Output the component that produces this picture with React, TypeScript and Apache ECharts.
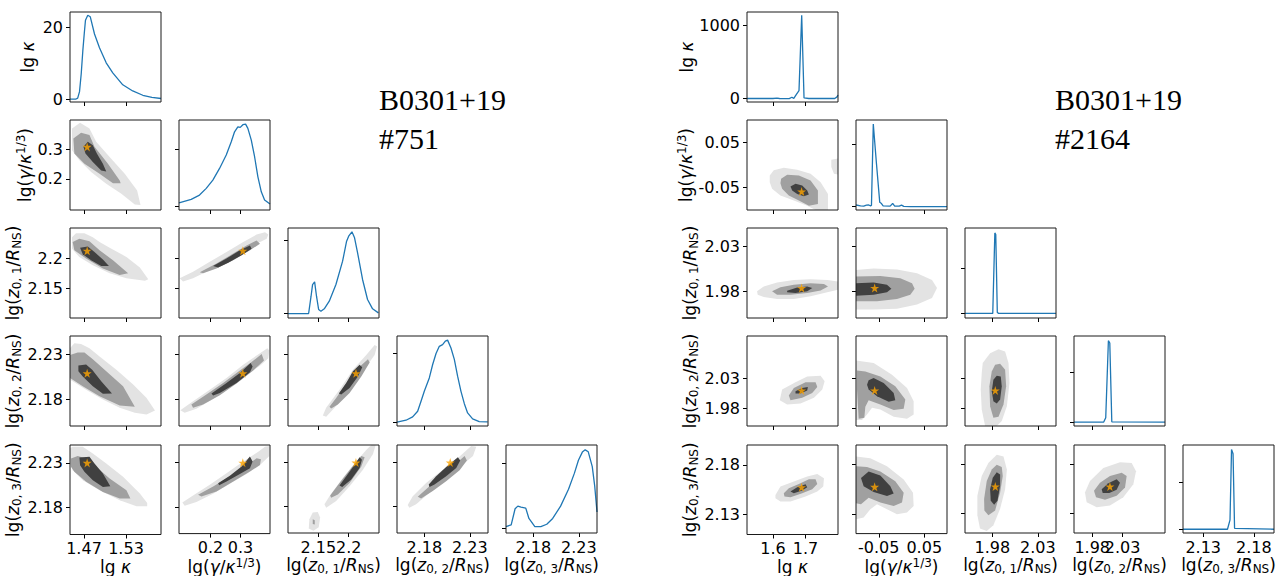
import React, { useEffect, useRef } from "react";
import * as echarts from "echarts";

// ---------- data ----------
const PARAM_NAMES = [
  "{n|lg }{i|κ}",
  "{n|lg(}{i|γ}{n|/}{i|κ}{sp|1/3}{n|)}",
  "{n|lg(}{i|z}{sb|0, 1}{n|/}{i|R}{sb|NS}{n|)}",
  "{n|lg(}{i|z}{sb|0, 2}{n|/}{i|R}{sb|NS}{n|)}",
  "{n|lg(}{i|z}{sb|0, 3}{n|/}{i|R}{sb|NS}{n|)}",
];

const L_RANGE = [[1.45, 1.58], [0.095, 0.398], [2.1, 2.25], [2.15, 2.25], [2.15, 2.25]];
const L_TICKS = [[1.47, 1.53], [0.2, 0.3], [2.15, 2.2], [2.18, 2.23], [2.18, 2.23]];
const L_BEST = [1.4745, 0.3075, 2.212, 2.2085, 2.23];
const L_DIAG_RANGE = [[-0.77, 24.2], [-0.28, 6.04], [-0.61, 11.66], [-1.1, 25.1], [-1.5, 25.7]];
const L_DIAG_TICKS = [[0, 20], [0, 4], [0, 10], [0, 20], [0, 20]];

const R_RANGE = [[1.52, 1.8], [-0.1, 0.1], [1.95, 2.05], [1.95, 2.1], [2.11, 2.2]];
const R_TICKS = [[1.6, 1.7], [-0.05, 0.05], [1.98, 2.03], [1.98, 2.03], [2.13, 2.18]];
const R_BEST = [1.688, -0.059, 1.9833, 2.0092, 2.1575];
const R_DIAG_RANGE = [[-45, 1183], [-2.1, 55.5], [-10.3, 189.7], [-7.9, 172], [-7.9, 178.5]];
const R_DIAG_TICKS = [[0, 1000], [0, 40], [0, 100], [0, 100], [0, 100]];

// marginal densities (x, density)
const L_KDE0 = [[1.45, 0], [1.458, 0], [1.461, 0.3], [1.4636, 2.1], [1.466, 7], [1.4683, 13.4], [1.4705, 18.5], [1.4721, 21.9], [1.4754, 23.3], [1.4789, 22.9], [1.485, 18.1], [1.4921, 14.3], [1.5017, 10.1], [1.5111, 7.3], [1.5254, 4.0], [1.5396, 2.3], [1.554, 1.1], [1.567, 0.5], [1.58, 0.2]];
const L_KDE1 = [[0.095, 0.22], [0.1357, 0.47], [0.1633, 0.77], [0.1857, 1.24], [0.2077, 1.82], [0.23, 2.64], [0.2523, 3.58], [0.269, 4.51], [0.28, 5.21], [0.291, 5.56], [0.299, 5.52], [0.3077, 5.71], [0.3167, 5.75], [0.3243, 5.45], [0.3357, 4.63], [0.3467, 3.46], [0.3577, 2.05], [0.369, 1.0], [0.38, 0.42], [0.398, 0.14]];
const L_KDE2 = [[2.1, 0], [2.134, 0], [2.138, 2.36], [2.1405, 3.95], [2.1439, 4.32], [2.147, 2.36], [2.1505, 0.55], [2.1543, 0.32], [2.1598, 0.64], [2.168, 1.68], [2.179, 3.95], [2.19, 7.14], [2.1966, 9.86], [2.2, 10.55], [2.2054, 11.14], [2.2097, 10.32], [2.2147, 8.27], [2.2229, 4.64], [2.2311, 1.91], [2.2394, 0.64], [2.249, 0.09]];
const L_KDE3 = [[2.15, 0], [2.1599, 0.58], [2.1672, 1.55], [2.1727, 3.2], [2.1764, 6.1], [2.18, 9.0], [2.1855, 12.9], [2.1892, 16.8], [2.1929, 20.0], [2.1965, 22.1], [2.2001, 22.6], [2.2031, 23.6], [2.2056, 23.9], [2.2093, 21.6], [2.213, 18.3], [2.2166, 13.4], [2.2203, 9.0], [2.224, 5.4], [2.2276, 2.7], [2.2331, 0.97], [2.2404, 0.19], [2.2496, 0.1]];
const L_KDE4 = [[2.15, 0.5], [2.1557, 1.0], [2.16, 6.0], [2.163, 6.8], [2.1665, 6.5], [2.1717, 6.2], [2.1752, 3.0], [2.1817, 0.5], [2.1883, 0.5], [2.1948, 1.2], [2.2013, 3.0], [2.21, 6.8], [2.2187, 12], [2.2252, 17], [2.2296, 21], [2.2339, 23.5], [2.237, 24.2], [2.2404, 23.6], [2.2448, 19], [2.2475, 13], [2.25, 5]];

const R_KDE0 = [[1.52, 3], [1.57, 3], [1.6, 3], [1.612, 8], [1.62, 3], [1.65, 2], [1.658, 20], [1.664, 5], [1.672, 60], [1.68, 110], [1.6883, 1137], [1.6955, 10], [1.71, 3], [1.79, 3], [1.797, 25], [1.8, 50]];
const R_KDE1 = [[-0.1, 1.1], [-0.09, 0.5], [-0.083, 0.4], [-0.077, 1.0], [-0.072, 1.1], [-0.068, 0.6], [-0.066, 0.8], [-0.062, 52.9], [-0.055, 27.5], [-0.0478, 2.8], [-0.044, 2.0], [-0.0404, 0.5], [-0.025, 0.4], [-0.0194, 2.1], [-0.015, 0.4], [-0.005, 0.4], [0.0, 1.0], [0.005, 0.2], [0.02, 0], [0.1, 0]];
const R_KDE2 = [[1.95, 0], [1.9805, 0], [1.9828, 178.8], [1.9838, 175], [1.9855, 2], [1.987, 0], [2.05, 0]];
const R_KDE3 = [[1.95, 0], [1.999, 0], [2.0023, 8.7], [2.0067, 162.7], [2.009, 158], [2.0123, 0.5], [2.1, 0]];
const R_KDE4 = [[2.11, 0], [2.154, 0], [2.1565, 20], [2.158, 169], [2.1595, 160], [2.161, 2], [2.2, 0]];

// 2-D credible regions (x, y) per panel: light / mid / dark polygons
const L10 = {
  light: [[[1.4529, 0.3697], [1.4644, 0.389], [1.4778, 0.3697], [1.4874, 0.3245], [1.5066, 0.2736], [1.5282, 0.2171], [1.5459, 0.1606], [1.5507, 0.112], [1.5426, 0.1131], [1.5234, 0.1493], [1.5018, 0.1832], [1.4802, 0.2228], [1.4634, 0.2623], [1.4529, 0.2962]]],
  mid: [[[1.4548, 0.3358], [1.4658, 0.355], [1.4778, 0.3471], [1.485, 0.3076], [1.5042, 0.251], [1.521, 0.1945], [1.5224, 0.1854], [1.5114, 0.1854], [1.4922, 0.2171], [1.4706, 0.251], [1.4562, 0.2849]]],
  dark: [[[1.4692, 0.3076], [1.4754, 0.3245], [1.4826, 0.3132], [1.4884, 0.2849], [1.497, 0.251], [1.5018, 0.225], [1.4946, 0.2283], [1.4826, 0.2567], [1.4721, 0.2849]]],
};
const L20 = {
  light: [[[1.4529, 2.2347], [1.4586, 2.2412], [1.4706, 2.2412], [1.4826, 2.2347], [1.4922, 2.2265], [1.5066, 2.2172], [1.5306, 2.2018], [1.5498, 2.1843], [1.5618, 2.1646], [1.557, 2.1619], [1.5306, 2.1662], [1.5066, 2.1745], [1.4826, 2.1881], [1.4634, 2.2018], [1.4529, 2.2155]]],
  mid: [[[1.4538, 2.2265], [1.4634, 2.2319], [1.4778, 2.2281], [1.4922, 2.2128], [1.5114, 2.1964], [1.533, 2.1745], [1.521, 2.1717], [1.497, 2.1827], [1.473, 2.1991], [1.4562, 2.2128]]],
  dark: [[[1.4644, 2.2172], [1.4754, 2.2193], [1.485, 2.21], [1.497, 2.1974], [1.5056, 2.1865], [1.4946, 2.1865], [1.4802, 2.1964], [1.4682, 2.2062]]],
};
const L21 = {
  light: [[[0.0972, 2.1662], [0.1418, 2.1772], [0.1975, 2.1936], [0.2532, 2.21], [0.3089, 2.2265], [0.3534, 2.2391], [0.3813, 2.2429], [0.3924, 2.2391], [0.3869, 2.2319], [0.3534, 2.2237], [0.2977, 2.2073], [0.242, 2.1909], [0.1863, 2.1772], [0.1418, 2.1662], [0.1084, 2.1608]]],
  mid: [[[0.1641, 2.1761], [0.2198, 2.1909], [0.2755, 2.2073], [0.32, 2.221], [0.3534, 2.2292], [0.3646, 2.2237], [0.3312, 2.2128], [0.2755, 2.1964], [0.2198, 2.1827], [0.1752, 2.1745]]],
  dark: [[[0.2086, 2.1865], [0.2532, 2.1991], [0.2977, 2.2128], [0.3312, 2.221], [0.3367, 2.2155], [0.3033, 2.2046], [0.2588, 2.192], [0.2253, 2.1843]]],
};
const L30 = {
  light: [[[1.45, 2.2015], [1.45, 2.2364], [1.4562, 2.2419], [1.4658, 2.2412], [1.4778, 2.2364], [1.4922, 2.2272], [1.5162, 2.2125], [1.5402, 2.196], [1.5594, 2.1812], [1.5714, 2.1673], [1.5594, 2.1629], [1.5426, 2.1647], [1.521, 2.1702], [1.497, 2.1794], [1.473, 2.1904], [1.4538, 2.1996]]],
  mid: [[[1.45, 2.229], [1.461, 2.2316], [1.4706, 2.2316], [1.4826, 2.2243], [1.5018, 2.2107], [1.5258, 2.1941], [1.5426, 2.1713], [1.521, 2.1728], [1.4922, 2.1831], [1.4682, 2.1941], [1.45, 2.2033]]],
  dark: [[[1.462, 2.2173], [1.473, 2.2184], [1.4817, 2.2125], [1.4946, 2.1996], [1.51, 2.186], [1.497, 2.1857], [1.4826, 2.1941], [1.4682, 2.2051], [1.462, 2.2107]]],
};
const L31 = {
  light: [[[0.0995, 2.1676], [0.1418, 2.1776], [0.1975, 2.1904], [0.2532, 2.2033], [0.3089, 2.218], [0.3646, 2.2309], [0.3891, 2.2364], [0.3958, 2.2338], [0.3924, 2.2254], [0.3646, 2.2169], [0.32, 2.207], [0.2643, 2.1934], [0.2086, 2.1801], [0.1529, 2.1691], [0.1139, 2.1647]]],
  mid: [[[0.1362, 2.1739], [0.1863, 2.1849], [0.242, 2.1978], [0.2977, 2.2118], [0.3367, 2.221], [0.3702, 2.2301], [0.378, 2.2228], [0.3423, 2.2118], [0.2866, 2.1971], [0.2309, 2.1842], [0.1752, 2.1739], [0.1418, 2.1702]]],
  dark: [[[0.2031, 2.186], [0.2532, 2.1978], [0.2977, 2.2088], [0.3334, 2.2199], [0.3401, 2.2162], [0.3312, 2.2096], [0.2866, 2.1978], [0.2309, 2.1868], [0.2086, 2.1838]]],
};
const L32 = {
  light: [[[2.1574, 2.1618], [2.1629, 2.1702], [2.1849, 2.1904], [2.207, 2.2125], [2.229, 2.229], [2.2428, 2.2401], [2.2467, 2.2382], [2.2428, 2.229], [2.2235, 2.2107], [2.2015, 2.1904], [2.1794, 2.1721], [2.1629, 2.1603]]],
  mid: [[[2.1684, 2.1713], [2.1794, 2.1812], [2.196, 2.1978], [2.2153, 2.2143], [2.2318, 2.2243], [2.2346, 2.2206], [2.2208, 2.2051], [2.2015, 2.1868], [2.1822, 2.1739], [2.1711, 2.1695]]],
  dark: [[[2.1838, 2.186], [2.196, 2.1978], [2.207, 2.2107], [2.218, 2.218], [2.2224, 2.2154], [2.2153, 2.2051], [2.2015, 2.1923], [2.1877, 2.1849]]],
};
const L40 = {
  light: [[[1.4538, 2.2481], [1.4682, 2.2481], [1.4826, 2.2406], [1.5018, 2.2294], [1.5258, 2.2144], [1.5498, 2.1957], [1.5603, 2.1852], [1.5603, 2.1815], [1.545, 2.1815], [1.521, 2.1882], [1.4922, 2.1994], [1.4682, 2.2107], [1.4538, 2.2219], [1.45, 2.2294], [1.45, 2.2463]]],
  mid: [[[1.4514, 2.235], [1.461, 2.2376], [1.473, 2.235], [1.4874, 2.2257], [1.5066, 2.2125], [1.5306, 2.1994], [1.5363, 2.1901], [1.521, 2.1901], [1.497, 2.1976], [1.473, 2.2088], [1.4562, 2.22], [1.4514, 2.2257]]],
  dark: [[[1.4634, 2.2361], [1.4778, 2.2369], [1.485, 2.2294], [1.497, 2.2182], [1.5076, 2.2039], [1.497, 2.2032], [1.4826, 2.2107], [1.4706, 2.22], [1.4644, 2.2275]]],
};
const L41 = {
  light: [[[0.1061, 2.1852], [0.1418, 2.1931], [0.1975, 2.2051], [0.2532, 2.2182], [0.3089, 2.2313], [0.359, 2.2425], [0.3813, 2.2481], [0.3958, 2.2489], [0.3958, 2.2376], [0.3646, 2.2275], [0.32, 2.2174], [0.2643, 2.2062], [0.2086, 2.1949], [0.1529, 2.1856], [0.1139, 2.1815]]],
  mid: [[[0.1585, 2.1938], [0.2086, 2.2032], [0.2643, 2.2144], [0.3145, 2.2257], [0.3534, 2.235], [0.3679, 2.2339], [0.3646, 2.2275], [0.3312, 2.22], [0.2755, 2.2088], [0.2198, 2.1976], [0.1696, 2.192]]],
  dark: [[[0.2253, 2.2069], [0.2643, 2.2152], [0.3033, 2.2257], [0.3312, 2.2369], [0.3401, 2.2313], [0.3312, 2.2238], [0.2977, 2.2174], [0.2532, 2.2088], [0.2287, 2.2047]]],
};
const L42 = {
  light: [
    [[2.1601, 2.1826], [2.1684, 2.1919], [2.1904, 2.2125], [2.2125, 2.2313], [2.229, 2.2444], [2.2373, 2.25], [2.2445, 2.25], [2.2401, 2.2399], [2.2235, 2.2219], [2.2015, 2.2032], [2.1794, 2.1863], [2.1629, 2.1788]],
    [[2.1353, 2.1657], [2.1408, 2.1732], [2.1491, 2.174], [2.1529, 2.1676], [2.1507, 2.1564], [2.1419, 2.1526], [2.1342, 2.1552]],
  ],
  mid: [
    [[2.1695, 2.1927], [2.1849, 2.2069], [2.2042, 2.2238], [2.2208, 2.2376], [2.2263, 2.2361], [2.2208, 2.2257], [2.2015, 2.2069], [2.1822, 2.1938], [2.1711, 2.1901]],
    [[2.1408, 2.1657], [2.1441, 2.1644], [2.1441, 2.1597], [2.1408, 2.1603]],
  ],
  dark: [[[2.1849, 2.2039], [2.196, 2.2144], [2.2097, 2.2275], [2.218, 2.2361], [2.2219, 2.2331], [2.218, 2.2238], [2.2042, 2.2107], [2.1893, 2.2024]]],
};
const L43 = {
  light: [[[2.1618, 2.1818], [2.1673, 2.1919], [2.182, 2.2069], [2.2004, 2.2219], [2.2188, 2.2369], [2.2316, 2.2489], [2.2371, 2.2481], [2.2335, 2.2376], [2.2188, 2.2249], [2.204, 2.2118], [2.1857, 2.1957], [2.171, 2.1826], [2.1636, 2.1788]]],
  mid: [[[2.1728, 2.1912], [2.1857, 2.2032], [2.2004, 2.2163], [2.2151, 2.2294], [2.2243, 2.2376], [2.2268, 2.2324], [2.2188, 2.2212], [2.204, 2.2088], [2.1893, 2.1976], [2.1765, 2.1893]]],
  dark: [[[2.1849, 2.2051], [2.193, 2.2144], [2.204, 2.2249], [2.2169, 2.2361], [2.2195, 2.2324], [2.2151, 2.2238], [2.204, 2.2144], [2.1912, 2.2051], [2.1857, 2.2024]]],
};

const R10 = {
  light: [
    [[1.59, -0.0231], [1.6024, -0.0119], [1.6332, -0.006], [1.6744, -0.0105], [1.7156, -0.0194], [1.7465, -0.0381], [1.7691, -0.0642], [1.7691, -0.1], [1.731, -0.1], [1.7053, -0.0903], [1.6641, -0.0791], [1.6229, -0.0679], [1.5972, -0.053], [1.59, -0.0381]],
    [[1.7794, 0.0119], [1.8, 0.0142], [1.8, -0.0209], [1.7876, -0.0194], [1.7794, -0.0045]],
  ],
  mid: [[[1.625, -0.0306], [1.6435, -0.0216], [1.6796, -0.0231], [1.7156, -0.0343], [1.7382, -0.0567], [1.7382, -0.0866], [1.7104, -0.0903], [1.6796, -0.0791], [1.6487, -0.0679], [1.6281, -0.053], [1.6229, -0.0403]]],
  dark: [[[1.6538, -0.0478], [1.6693, -0.0418], [1.6899, -0.0455], [1.7053, -0.0567], [1.7104, -0.0657], [1.695, -0.0694], [1.6744, -0.0642], [1.659, -0.0567]]],
};
const R20 = {
  light: [[[1.5509, 1.9796], [1.5715, 1.985], [1.6126, 1.9894], [1.6641, 1.9923], [1.7156, 1.9931], [1.7671, 1.9923], [1.8, 1.9905], [1.8, 1.9814], [1.7671, 1.9785], [1.7156, 1.9741], [1.6641, 1.9712], [1.6126, 1.9712], [1.5715, 1.9733], [1.5529, 1.9759]]],
  mid: [[[1.5972, 1.9796], [1.6229, 1.9843], [1.6641, 1.9869], [1.7156, 1.9887], [1.7568, 1.9879], [1.7691, 1.985], [1.7465, 1.9806], [1.7053, 1.9777], [1.6538, 1.9759], [1.6126, 1.9759]]],
  dark: [[[1.6435, 1.9803], [1.6744, 1.9839], [1.7053, 1.985], [1.7207, 1.9832], [1.7053, 1.9796], [1.6693, 1.9777], [1.6435, 1.9785]]],
};
const R21 = {
  light: [[[-0.1, 2.0033], [-0.0612, 2.0051], [-0.0099, 2.004], [0.0341, 1.9996], [0.067, 1.9923], [0.078, 1.9832], [0.067, 1.9723], [0.0341, 1.965], [-0.0099, 1.9602], [-0.0612, 1.9595], [-0.1, 1.9595]]],
  mid: [[[-0.1, 1.996], [-0.0465, 1.9967], [-0.0026, 1.9942], [0.0231, 1.9887], [0.0289, 1.9825], [0.0194, 1.9759], [-0.0099, 1.9712], [-0.0538, 1.9686], [-0.1, 1.9686]]],
  dark: [[[-0.1, 1.9887], [-0.0612, 1.9894], [-0.0319, 1.9869], [-0.0223, 1.9825], [-0.0319, 1.9785], [-0.0612, 1.9759], [-0.1, 1.9748]]],
};
const R30 = {
  light: [[[1.6209, 1.993], [1.6281, 2.0107], [1.6693, 2.0228], [1.7053, 2.0327], [1.7465, 2.0338], [1.7588, 2.0245], [1.7516, 2.0107], [1.7259, 1.9969], [1.6847, 1.9875], [1.6435, 1.9858]]],
  mid: [[[1.6487, 2.0007], [1.6641, 2.0134], [1.7001, 2.0228], [1.731, 2.0228], [1.7362, 2.0151], [1.7207, 2.0051], [1.6899, 1.9969], [1.6538, 1.993]]],
  dark: [[[1.6693, 2.0079], [1.6899, 2.0134], [1.7074, 2.0151], [1.7053, 2.009], [1.6847, 2.004], [1.6693, 2.004]]],
};
const R31 = {
  light: [[[-0.1, 2.0592], [-0.0612, 2.0548], [-0.0209, 2.0355], [0.0121, 2.0134], [0.0267, 1.9914], [0.0267, 1.9693], [0.0121, 1.9621], [-0.0172, 1.9654], [-0.0465, 1.9776], [-0.0648, 1.9803], [-0.0758, 1.9693], [-0.0868, 1.9599], [-0.1, 1.9599]]],
  mid: [[[-0.0978, 2.0426], [-0.0795, 2.041], [-0.0465, 2.0327], [-0.0136, 2.0162], [0.0084, 1.9941], [0.0048, 1.9787], [-0.0172, 1.9765], [-0.0465, 1.9858], [-0.0722, 1.993], [-0.0795, 1.982], [-0.0817, 1.9637], [-0.0941, 1.9621], [-0.0978, 2.0107]]],
  dark: [[[-0.0722, 2.0261], [-0.0612, 2.03], [-0.0392, 2.0217], [-0.0172, 2.0051], [-0.0136, 1.993], [-0.0282, 1.9903], [-0.0538, 1.9996], [-0.0722, 2.0107], [-0.0758, 2.0189]]],
};
const R32 = {
  light: [[[1.9695, 2.0548], [1.9776, 2.0713], [1.9868, 2.0779], [1.9941, 2.0741], [1.9978, 2.0548], [1.9989, 2.0217], [1.996, 1.9831], [1.9904, 1.9583], [1.9849, 1.95], [1.9721, 1.95], [1.9684, 1.9776], [1.9673, 2.0107], [1.9684, 2.0382]]],
  mid: [[[1.9794, 2.041], [1.9831, 2.052], [1.9886, 2.0537], [1.9941, 2.0438], [1.9952, 2.0162], [1.9923, 1.9858], [1.9868, 1.9654], [1.9812, 1.9637], [1.9776, 1.9831], [1.9768, 2.0162]]],
  dark: [[[1.9812, 2.0272], [1.9849, 2.0338], [1.9893, 2.0327], [1.9904, 2.0162], [1.9886, 1.9941], [1.9849, 1.9875], [1.9812, 1.9914], [1.9794, 2.0079]]],
};
const R40 = {
  light: [[[1.6075, 2.1498], [1.6229, 2.1582], [1.6641, 2.1632], [1.7053, 2.1682], [1.7362, 2.1709], [1.7568, 2.1665], [1.7547, 2.1582], [1.7362, 2.1532], [1.7001, 2.1481], [1.6538, 2.1431], [1.6229, 2.1431], [1.6075, 2.1465]]],
  mid: [[[1.6332, 2.1515], [1.6487, 2.1565], [1.6796, 2.1609], [1.7104, 2.1655], [1.731, 2.1655], [1.7362, 2.1609], [1.7207, 2.1555], [1.6899, 2.1515], [1.6538, 2.1475], [1.6353, 2.1481]]],
  dark: [[[1.6538, 2.1532], [1.6744, 2.1575], [1.7001, 2.1605], [1.7053, 2.1575], [1.6899, 2.1542], [1.6641, 2.1515]]],
};
const R41 = {
  light: [[[-0.1, 2.1883], [-0.0685, 2.1866], [-0.0319, 2.1783], [0.0048, 2.1649], [0.0253, 2.1515], [0.0267, 2.1381], [0.0121, 2.1314], [-0.0099, 2.1297], [-0.0319, 2.1348], [-0.0538, 2.1398], [-0.0685, 2.1348], [-0.0832, 2.1264], [-0.1, 2.1247]]],
  mid: [[[-0.1, 2.1783], [-0.0758, 2.1776], [-0.0465, 2.1732], [-0.0136, 2.1632], [0.0048, 2.1515], [0.0011, 2.1415], [-0.0172, 2.1381], [-0.0465, 2.1415], [-0.0722, 2.1465], [-0.089, 2.1398], [-0.1, 2.1408]]],
  dark: [[[-0.089, 2.1665], [-0.0722, 2.1732], [-0.0465, 2.1689], [-0.0245, 2.1582], [-0.0172, 2.1508], [-0.0319, 2.1481], [-0.0612, 2.1522], [-0.0832, 2.1582]]],
};
const R42 = {
  light: [[[1.9636, 2.1481], [1.9684, 2.1682], [1.9757, 2.1816], [1.9849, 2.19], [1.9923, 2.1883], [1.996, 2.1749], [1.9941, 2.1548], [1.9886, 2.1348], [1.9812, 2.118], [1.9739, 2.112], [1.9665, 2.1147], [1.9636, 2.1281]]],
  mid: [[[1.971, 2.1448], [1.9739, 2.1632], [1.9794, 2.1749], [1.9849, 2.1799], [1.9904, 2.1776], [1.9915, 2.1682], [1.9886, 2.1515], [1.9831, 2.1331], [1.9757, 2.1281], [1.9713, 2.1331]]],
  dark: [[[1.9776, 2.1548], [1.9805, 2.1665], [1.9849, 2.1722], [1.9886, 2.1699], [1.9886, 2.1582], [1.9857, 2.1431], [1.982, 2.1388], [1.9783, 2.1431]]],
};
const R43 = {
  light: [[[1.9681, 2.1515], [1.9764, 2.1632], [1.9984, 2.1766], [2.0258, 2.1823], [2.0451, 2.1816], [2.0522, 2.1732], [2.0478, 2.1599], [2.0313, 2.1465], [2.0093, 2.1381], [1.9874, 2.1364], [1.9709, 2.1415]]],
  mid: [[[1.983, 2.1532], [1.9929, 2.1615], [2.0093, 2.1682], [2.0286, 2.1716], [2.0368, 2.1682], [2.0341, 2.1565], [2.0203, 2.1481], [2.0011, 2.1441], [1.9863, 2.1465]]],
  dark: [[[1.9956, 2.1548], [2.0066, 2.1609], [2.0203, 2.1649], [2.0258, 2.1615], [2.0203, 2.1542], [2.0082, 2.1508], [1.9973, 2.1508]]],
};

const L_PANELS: any = { "1-0": L10, "2-0": L20, "2-1": L21, "3-0": L30, "3-1": L31, "3-2": L32, "4-0": L40, "4-1": L41, "4-2": L42, "4-3": L43 };
const R_PANELS: any = { "1-0": R10, "2-0": R20, "2-1": R21, "3-0": R30, "3-1": R31, "3-2": R32, "4-0": R40, "4-1": R41, "4-2": R42, "4-3": R43 };

// ---------- styling / layout ----------
const TICK_FONT = '"DejaVu Sans", sans-serif';
const NAME_FONT = '"DejaVu Sans", sans-serif';
const LIGHT = "#e3e3e3";
const MID = "#a0a0a0";
const DARK = "#404040";
const KDE_COLOR = "#1f77b4";
const STAR = "path://M50 0 L61.2 34.5 L97.6 34.5 L68.2 55.9 L79.4 90.5 L50 69.1 L20.6 90.5 L31.8 55.9 L2.4 34.5 L38.8 34.5 Z";
const TOPS = [12, 120, 228, 336, 445];
const L_LEFTS = [70, 179, 288, 397, 506];
const R_LEFTS = [747, 856, 965, 1074, 1183];
const L_YNAME_GAP = [32, 33, 45, 45, 42];
const R_YNAME_GAP = [50, 50, 45, 45, 41];

const NAME_RICH = {
  n: { fontSize: 17, fontFamily: NAME_FONT, color: "#000", lineHeight: 20 },
  i: { fontSize: 17, fontFamily: NAME_FONT, fontStyle: "italic", color: "#000", lineHeight: 20 },
  sb: { fontSize: 12, fontFamily: NAME_FONT, color: "#000", lineHeight: 12, verticalAlign: "bottom" },
  sp: { fontSize: 12, fontFamily: NAME_FONT, color: "#000", lineHeight: 12, verticalAlign: "top" },
};

const labelStyle = (values: number[], show: boolean, margin: number) => ({
  show, customValues: values, fontSize: 16, fontFamily: TICK_FONT, color: "#000", margin,
  hideOverlap: false, formatter: (v: number) => String(v),
});

function buildCorner(cfg: any, grids: any[], xAxes: any[], yAxes: any[], extraX: any[], series: any[]) {
  const { lefts, ranges, ticks, diagRanges, diagTicks, kdes, panels, best, yGaps } = cfg;
  for (let r = 0; r < 5; r++) {
    for (let c = 0; c <= r; c++) {
      const gi = grids.length;
      grids.push({
        left: lefts[c], top: TOPS[r], width: 91, height: 90,
        show: true, borderColor: "#1a1a1a", borderWidth: 1, backgroundColor: "transparent", z: 5,
      });
      const bottom = r === 4;
      xAxes.push({
        gridIndex: gi, type: "value", min: ranges[c][0], max: ranges[c][1], position: "bottom", offset: 0,
        axisLine: { show: false, onZero: false }, splitLine: { show: false },
        axisTick: { show: true, customValues: ticks[c], length: 4, lineStyle: { color: "#000", width: 1 } },
        axisLabel: labelStyle([ticks[c][0]], bottom, 6),
        name: bottom ? PARAM_NAMES[c] : "", nameLocation: "middle", nameGap: 22,
        nameTextStyle: { fontSize: 17, fontFamily: NAME_FONT, color: "#000", rich: NAME_RICH },
      });
      if (bottom) {
        // second tick label on its own axis so that touching labels are both kept
        extraX.push({
          gridIndex: gi, type: "value", min: ranges[c][0], max: ranges[c][1], position: "bottom", offset: 0,
          axisLine: { show: false, onZero: false }, splitLine: { show: false }, axisTick: { show: false },
          axisLabel: labelStyle([ticks[c][1]], true, 6),
        });
      }
      const isDiag = r === c;
      const yr = isDiag ? diagRanges[r] : ranges[r];
      const yt = isDiag ? diagTicks[r] : ticks[r];
      yAxes.push({
        gridIndex: gi, type: "value", min: yr[0], max: yr[1], position: "left",
        axisLine: { show: false, onZero: false }, splitLine: { show: false },
        axisTick: { show: true, customValues: yt, length: 4, lineStyle: { color: "#000", width: 1 } },
        axisLabel: labelStyle(yt, c === 0, 7),
        name: c === 0 ? PARAM_NAMES[r] : "", nameLocation: "middle", nameRotate: 90, nameGap: yGaps[r],
        nameTextStyle: { fontSize: 17, fontFamily: NAME_FONT, color: "#000", rich: NAME_RICH },
      });
      if (isDiag) {
        series.push({
          type: "line", xAxisIndex: gi, yAxisIndex: gi, data: kdes[r], showSymbol: false, symbol: "none",
          lineStyle: { color: KDE_COLOR, width: 1.3 }, clip: true, silent: true, z: 3,
        });
      } else {
        const p = panels[r + "-" + c];
        const polys: any[] = [];
        p.light.forEach((pts: number[][]) => polys.push({ pts, color: LIGHT }));
        p.mid.forEach((pts: number[][]) => polys.push({ pts, color: MID }));
        p.dark.forEach((pts: number[][]) => polys.push({ pts, color: DARK }));
        series.push({
          type: "custom", xAxisIndex: gi, yAxisIndex: gi, clip: true, silent: true, z: 2,
          data: polys.map((q) => [q.pts[0][0], q.pts[0][1]]),
          renderItem: (params: any, api: any) => {
            const q = polys[params.dataIndex];
            return {
              type: "polygon",
              shape: { points: q.pts.map((pt: number[]) => api.coord(pt)) },
              style: { fill: q.color, stroke: null },
            };
          },
        });
        series.push({
          type: "scatter", xAxisIndex: gi, yAxisIndex: gi, data: [[best[c], best[r]]],
          symbol: STAR, symbolSize: 9, itemStyle: { color: "#ffa500" }, silent: true, z: 4,
        });
      }
    }
  }
}

export default function App() {
  const ref = useRef<HTMLDivElement>(null);
  useEffect(() => {
    if (!ref.current) return;
    const chart = echarts.init(ref.current, undefined, { renderer: "svg" });
    const grids: any[] = [];
    const xAxes: any[] = [];
    const yAxes: any[] = [];
    const extraX: any[] = [];
    const series: any[] = [];
    buildCorner({
      lefts: L_LEFTS, ranges: L_RANGE, ticks: L_TICKS, diagRanges: L_DIAG_RANGE, diagTicks: L_DIAG_TICKS,
      kdes: [L_KDE0, L_KDE1, L_KDE2, L_KDE3, L_KDE4], panels: L_PANELS, best: L_BEST, yGaps: L_YNAME_GAP,
    }, grids, xAxes, yAxes, extraX, series);
    buildCorner({
      lefts: R_LEFTS, ranges: R_RANGE, ticks: R_TICKS, diagRanges: R_DIAG_RANGE, diagTicks: R_DIAG_TICKS,
      kdes: [R_KDE0, R_KDE1, R_KDE2, R_KDE3, R_KDE4], panels: R_PANELS, best: R_BEST, yGaps: R_YNAME_GAP,
    }, grids, xAxes, yAxes, extraX, series);
    const titleFont = '30px "Liberation Serif", "Times New Roman", serif';
    chart.setOption({
      animation: false,
      backgroundColor: "#ffffff",
      grid: grids,
      xAxis: xAxes.concat(extraX),
      yAxis: yAxes,
      series,
      graphic: [
        { type: "text", x: 379, y: 99, style: { text: "B0301+19", font: titleFont, fill: "#000", verticalAlign: "middle", align: "left" } },
        { type: "text", x: 379, y: 138, style: { text: "#751", font: titleFont, fill: "#000", verticalAlign: "middle", align: "left" } },
        { type: "text", x: 1055, y: 99, style: { text: "B0301+19", font: titleFont, fill: "#000", verticalAlign: "middle", align: "left" } },
        { type: "text", x: 1055, y: 138, style: { text: "#2164", font: titleFont, fill: "#000", verticalAlign: "middle", align: "left" } },
      ],
    });
    return () => chart.dispose();
  }, []);
  return <div ref={ref} style={{ position: "absolute", left: 0, top: 0, width: 1279, height: 576 }} />;
}
